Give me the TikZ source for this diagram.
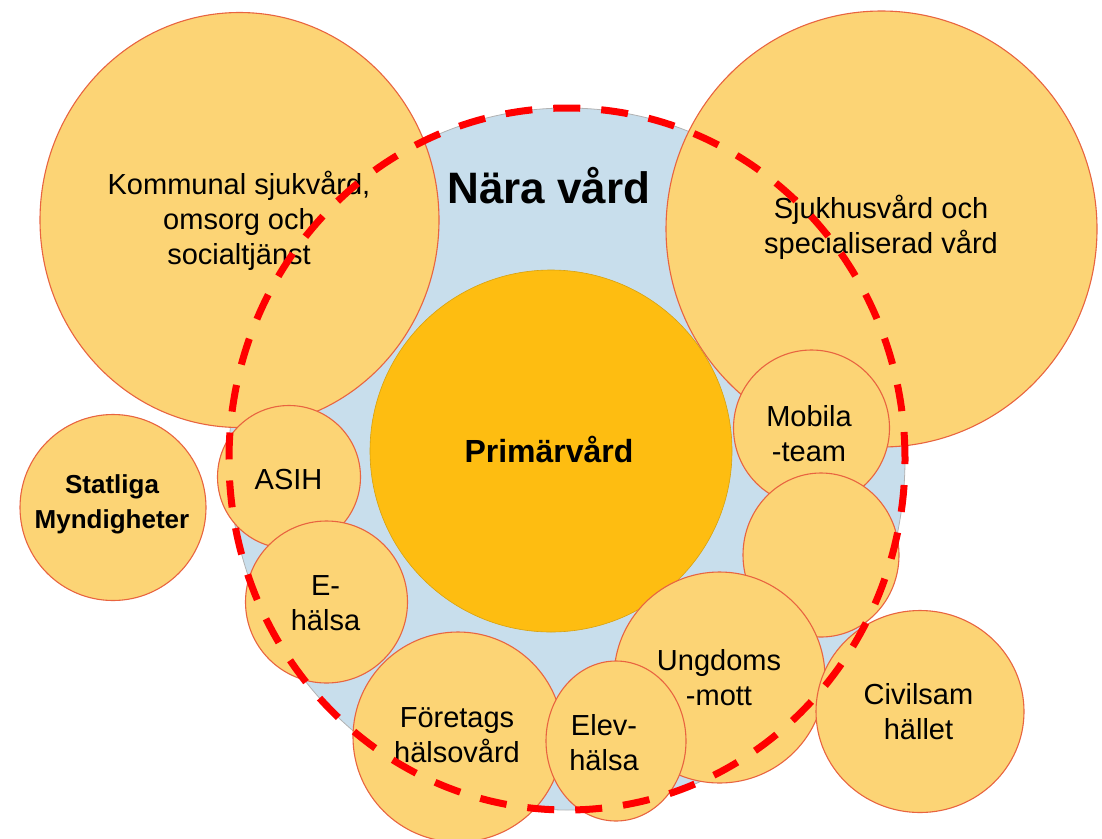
\documentclass[tikz,border=0pt]{standalone}
\usepackage{fontspec}
\setmainfont{Liberation Sans}
\usetikzlibrary{shapes.geometric}
\definecolor{bubfill}{RGB}{252,212,117}
\definecolor{primfill}{RGB}{254,189,17}
\definecolor{bluefill}{RGB}{200,222,236}
\definecolor{bubline}{RGB}{232,100,64}
\definecolor{dashred}{RGB}{255,0,0}
\begin{document}
\begin{tikzpicture}[x=1pt,y=-1pt,
  bub/.style={circle, draw=bubline, line width=1.1pt, fill=bubfill, inner sep=0pt, outer sep=0pt},
  bubE/.style={ellipse, draw=bubline, line width=1.1pt, fill=bubfill, inner sep=0pt, outer sep=0pt},
  txt/.style={font=\fontsize{29}{35}\selectfont, align=center, inner sep=0pt, text=black},
  btxt/.style={font=\bfseries\fontsize{26}{35}\selectfont, align=center, inner sep=0pt, text=black}]
\useasboundingbox (0,0) rectangle (1102,838);
% background region
\node[ellipse, fill=bluefill, draw=gray!60, line width=0.8pt, minimum width=676pt, minimum height=702pt, inner sep=0pt] (nara) at (567,459) {};
% large circles
\node[bubE, minimum width=399pt, minimum height=415pt] (komm) at (239.5,220) {};
\node[bubE, minimum width=431pt, minimum height=436pt] (sjuk) at (881.5,229) {};
\node[circle, fill=primfill, draw=primfill!85!black, line width=0.6pt, inner sep=0pt, minimum size=362pt] (prim) at (551,451) {};
% small circles
\node[bub, minimum size=186pt] (stat) at (113,507.5) {};
\node[bub, minimum size=143pt] (asih) at (289,477) {};
\node[bub, minimum size=162pt] (ehal) at (326.5,602) {};
\node[bub, minimum size=156pt] (mob) at (811.5,428) {};
\node[bubE, minimum width=156pt, minimum height=164pt] (blank) at (821,555) {};
\node[bub, minimum size=211pt] (ungd) at (719.5,677.5) {};
\node[bub, minimum size=210pt] (foret) at (458,737) {};
\node[bubE, minimum width=140pt, minimum height=160pt] (elev) at (616,741) {};
\node[bubE, minimum width=208pt, minimum height=202pt] (civil) at (920,711.5) {};
% labels
\node[font=\bfseries\fontsize{44}{52}\selectfont, inner sep=0pt, anchor=base] (nara-t) at (549,203) {Nära vård};
\node[font=\bfseries\fontsize{32}{38}\selectfont, inner sep=0pt, anchor=base] (prim-t) at (549,462) {Primärvård};
\node[txt] (komm-t) at (239,222) {\strut Kommunal sjukvård,\\\strut omsorg och\\\strut socialtjänst};
\node[txt] (sjuk-t) at (881,228.5) {\strut Sjukhusvård och\\\strut specialiserad vård};
\node[btxt] (stat-t) at (112,503.5) {\strut Statliga\\\strut Myndigheter};
\node[txt, anchor=base] (asih-t) at (288.5,489) {ASIH};
\node[txt] (ehal-t) at (325.5,605.5) {\strut E-\\\strut hälsa};
\node[txt] (mob-t) at (809,436.5) {\strut Mobila\\\strut -team};
\node[txt] (ungd-t) at (719,680.5) {\strut Ungdoms\\\strut -mott};
\node[txt] (foret-t) at (457,737.5) {\strut Företags\\\strut hälsovård};
\node[txt] (elev-t) at (604,745.5) {\strut Elev-\\\strut hälsa};
\node[txt] (civil-t) at (918.5,714.5) {\strut Civilsam\\\strut hället};
% dashed boundary
\node[ellipse, draw=dashred, line width=7pt, dash pattern=on 27pt off 21pt, minimum width=676pt, minimum height=702pt, inner sep=0pt] (ring) at (567,459) {};
\end{tikzpicture}
\end{document}
